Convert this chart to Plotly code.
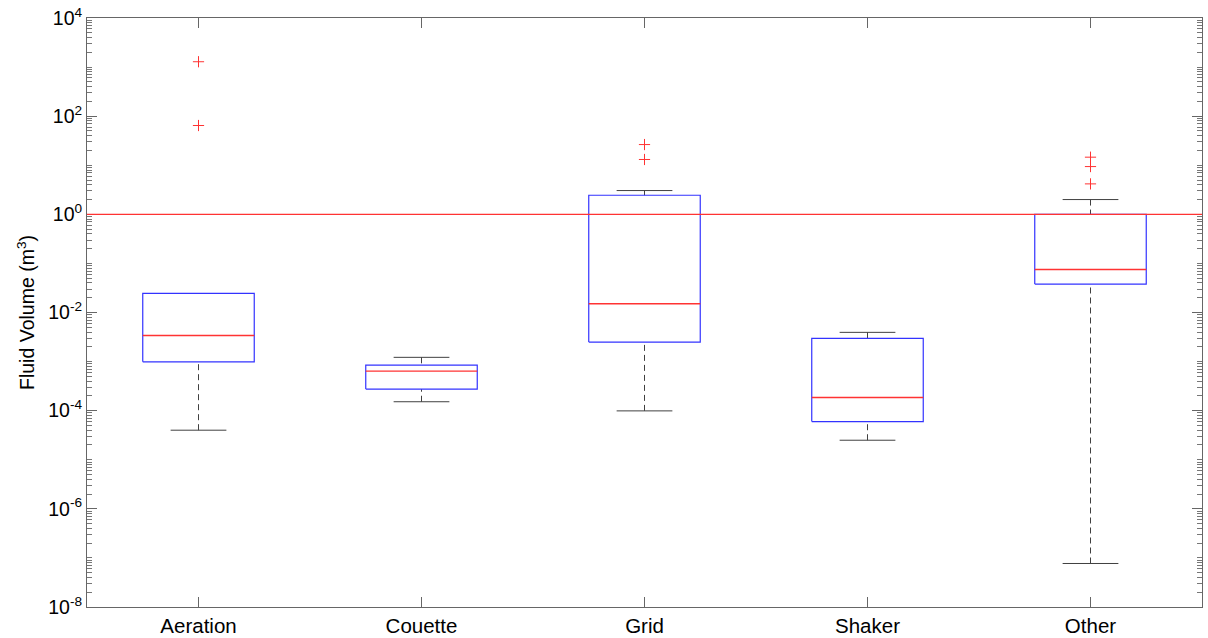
import plotly.graph_objects as go

categories = ["Aeration", "Couette", "Grid", "Shaker", "Other"]
lower_whisker = [4.0e-5, 1.52e-4, 9.9e-5, 2.5e-5, 7.7e-8]
q1 = [9.9e-4, 2.75e-4, 2.5e-3, 6.0e-5, 3.8e-2]
median = [3.4e-3, 6.4e-4, 1.51e-2, 1.86e-4, 7.5e-2]
q3 = [2.46e-2, 8.5e-4, 2.45, 2.97e-3, 1.0]
upper_whisker = [2.46e-2, 1.22e-3, 3.05, 3.94e-3, 2.0]
outliers = [[1285, 64.5], [], [26.4, 13.1], [], [14.6, 9.4, 4.17]]
reference_level = 1.0

major_tickvals = [1e-8, 1e-6, 1e-4, 1e-2, 1e0, 1e2, 1e4]
major_ticktext = ["10<sup>-8</sup>", "10<sup>-6</sup>", "10<sup>-4</sup>", "10<sup>-2</sup>",
                  "10<sup>0</sup>", "10<sup>2</sup>", "10<sup>4</sup>"]

BOX_HALF = 0.25
CAP_HALF = 0.125
minor_vals = [k * 10.0 ** e for e in range(-8, 4) for k in range(1, 10)]

WHISKER = "#404040"
BOXC = "#3333ff"
REDC = "#ff3333"

fig = go.Figure()
for i, name in enumerate(categories):
    x = i + 1
    for wv, edge in ((upper_whisker[i], q3[i]), (lower_whisker[i], q1[i])):
        if wv == edge:
            continue
        fig.add_trace(go.Scatter(x=[x, x], y=[wv, edge], mode="lines",
                                 line=dict(color=WHISKER, width=1, dash="6px,4px"),
                                 showlegend=False, hoverinfo="skip"))
        fig.add_trace(go.Scatter(x=[x - CAP_HALF, x + CAP_HALF], y=[wv, wv], mode="lines",
                                 line=dict(color=WHISKER, width=1), showlegend=False, hoverinfo="skip"))
for i, name in enumerate(categories):
    x = i + 1
    fig.add_trace(go.Scatter(x=[x - BOX_HALF, x + BOX_HALF, x + BOX_HALF, x - BOX_HALF, x - BOX_HALF],
                             y=[q1[i], q1[i], q3[i], q3[i], q1[i]], mode="lines",
                             line=dict(color=BOXC, width=1.2), showlegend=False, hoverinfo="skip"))
    fig.add_trace(go.Scatter(x=[x - BOX_HALF, x + BOX_HALF], y=[median[i], median[i]], mode="lines",
                             line=dict(color=REDC, width=1.4), showlegend=False, hoverinfo="skip"))
    if outliers[i]:
        fig.add_trace(go.Scatter(x=[x] * len(outliers[i]), y=outliers[i], mode="markers",
                                 marker=dict(symbol="cross-thin", size=8, line=dict(color=REDC, width=1)),
                                 showlegend=False, hoverinfo="skip"))

fig.add_shape(type="line", xref="paper", x0=0, x1=1, yref="y", y0=reference_level, y1=reference_level,
              line=dict(color=REDC, width=1.2))

fig.update_layout(
    width=1208, height=638,
    margin=dict(l=87, r=6, t=18, b=31),
    paper_bgcolor="white", plot_bgcolor="white",
    font=dict(family="Liberation Sans, Arial, sans-serif", size=19, color="#000000"),
    xaxis=dict(range=[0.5, 5.5], tickmode="array", tickvals=list(range(1, len(categories) + 1)),
               ticktext=categories, ticks="inside", ticklen=10, tickcolor="#666666",
               showline=True, linecolor="#666666", linewidth=1, mirror="ticks",
               showgrid=False, zeroline=False, tickfont=dict(size=20.5), automargin=False),
    yaxis=dict(type="log", range=[-8, 4], tickmode="array", tickvals=major_tickvals,
               ticktext=major_ticktext, ticks="inside", ticklen=10, tickcolor="#666666",
               showline=True, linecolor="#666666", linewidth=1, mirror="ticks",
               showgrid=False, zeroline=False, tickfont=dict(size=19.5), automargin=False,
               minor=dict(tickmode="array", tickvals=minor_vals, ticks="inside", ticklen=5,
                          tickcolor="#777777", showgrid=False),
               title=dict(text="Fluid Volume (m<sup>3</sup>)", font=dict(size=19.5), standoff=8)),
)

fig.write_html("out.html", config={"displayModeBar": False},
               post_script="document.body.style.margin='0px';")
